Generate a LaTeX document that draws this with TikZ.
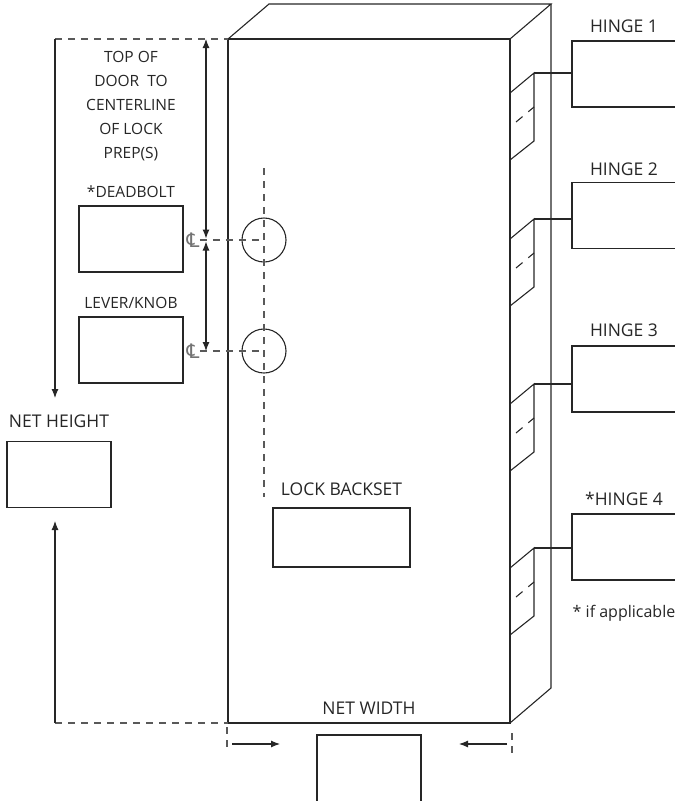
\documentclass[tikz,border=0pt]{standalone}
\usepackage{fontspec}
\setmainfont{Open Sans}
\newfontfamily\simbolo{DejaVu Sans}
\usetikzlibrary{positioning,arrows.meta}
\begin{document}
\begin{tikzpicture}[
  x=1pt, y=-1pt, line width=1.1pt, color=black!85,
  >={Latex[length=9pt,width=7pt]},
  every node/.style={inner sep=0pt, text depth=0pt},
  caixa/.style={draw, minimum width=104pt, minimum height=66pt},
  rotulo/.style={font=\fontsize{17.5}{21}\selectfont},
  miudo/.style={font=\fontsize{15.5}{24}\selectfont, align=center}
]
\tikzset{
  tracejado/.style={dash pattern=on 7pt off 6pt, draw=black!65},
  eixo/.style={font=\simbolo\fontsize{20}{20}\selectfont, text=black!55},
  furo/.style={draw, circle, minimum size=44pt}
}
\useasboundingbox (0,0) rectangle (675,801);
% porta em perspectiva
\coordinate (supEsq) at (228,39);  \coordinate (supDir) at (510,39);
\coordinate (infDir) at (510,723); \coordinate (infEsq) at (228,723);
\coordinate (fundoEsq) at (269,4); \coordinate (fundoDir) at (551,4);
\coordinate (fundoInf) at (551,688);
\draw (supEsq) rectangle (infDir);
\draw (supEsq) -- (fundoEsq) -- (fundoDir) -- (supDir);
\draw (fundoDir) -- (fundoInf) -- (infDir);
% altura liquida
\node[caixa] (altura) at (59,474.5) {};
\node[rotulo, above=13pt of altura] (alturaTxt) {NET HEIGHT};
\coordinate (nhTopo) at (55,39);  \coordinate (nhSeta1) at (55,398);
\coordinate (nhBase) at (55,723); \coordinate (nhSeta2) at (55,521);
\draw[tracejado] (nhTopo) -- (supEsq);
\draw[tracejado] (nhBase) -- (infEsq);
\draw[->] (nhTopo) -- (nhSeta1);
\draw[->] (nhBase) -- (nhSeta2);
% preparacoes da fechadura
\node[miudo] (topoTxt) at (131,105) {TOP OF\\DOOR~~TO\\CENTERLINE\\OF LOCK\\PREP(S)};
\node[caixa] (trinco) at (131,239) {};
\node[miudo, above=7pt of trinco] (trincoTxt) {*DEADBOLT};
\node[caixa] (macaneta) at (131,350) {};
\node[miudo, above=7pt of macaneta] (macanetaTxt) {LEVER/KNOB};
\node[eixo] (cl1) at (193,240) {℄};
\node[eixo] (cl2) at (193,351) {℄};
\node[furo] (furo1) at (264,240) {};
\node[furo] (furo2) at (264,351) {};
\coordinate (cotaTopo) at (206,39); \coordinate (cota1) at (206,240);
\coordinate (cota2) at (206,351);
\draw[<->, shorten >=1.5pt] (cotaTopo) -- (cota1);
\draw[<->, shorten <=1.5pt] (cota1) -- (cota2);
\draw[tracejado] (cl1.east |- furo1) -- (furo1.center);
\draw[tracejado] (cl2.east |- furo2) -- (furo2.center);
\coordinate (eixoTopo) at (264,168); \coordinate (eixoBase) at (264,497);
\draw[tracejado] (eixoTopo) -- (eixoBase);
\node[caixa, minimum width=137pt, minimum height=59pt] (recuo) at (341.5,537.5) {};
\node[rotulo, above=11pt of recuo] (recuoTxt) {LOCK BACKSET};
% largura liquida
\node[caixa, minimum height=80pt] (largura) at (369,775) {};
\node[rotulo, above=19pt of largura] (larguraTxt) {NET WIDTH};
\coordinate (nwEsq) at (232,744); \coordinate (nwSetaEsq) at (280,744);
\coordinate (nwDir) at (507,744); \coordinate (nwSetaDir) at (459,744);
\draw[->] (nwEsq) -- (nwSetaEsq);
\draw[->] (nwDir) -- (nwSetaDir);
\draw[tracejado] (227,727) -- (227,753);
\draw[tracejado] (512,733) -- (512,758);
% dobradicas
\node[caixa] (dob1) at (624,74) {};
\node[rotulo, above=7pt of dob1] (dob1Txt) {HINGE 1};
\node[caixa] (dob2) at (624,215.5) {};
\node[rotulo, above=6pt of dob2] (dob2Txt) {HINGE 2};
\node[caixa] (dob3) at (624,379) {};
\node[rotulo, above=8pt of dob3] (dob3Txt) {HINGE 3};
\node[caixa] (dob4) at (624,547) {};
\node[rotulo, above=7pt of dob4] (dob4Txt) {*HINGE 4};
\node[font=\fontsize{16}{19}\selectfont, below=24pt of dob4] (notaTxt) {* if applicable};
\coordinate (fol1) at (534,73);  \coordinate (fol2) at (534,219);
\coordinate (fol3) at (534,384); \coordinate (fol4) at (534,548);
\draw (510,93) -- (fol1) -- (534,141) -- (510,160);
\draw (510,239) -- (fol2) -- (534,287) -- (510,306);
\draw (510,404) -- (fol3) -- (534,452) -- (510,471);
\draw (510,568) -- (fol4) -- (534,616) -- (510,635);
\draw[dash pattern=on 8.5pt off 7.5pt] (516,122) -- (534,107);
\draw[dash pattern=on 8.5pt off 7.5pt] (516,268) -- (534,253);
\draw[dash pattern=on 8.5pt off 7.5pt] (516,433) -- (534,418);
\draw[dash pattern=on 8.5pt off 7.5pt] (516,597) -- (534,582);
\draw (fol1) -- (fol1 -| dob1.west);
\draw (fol2) -- (fol2 -| dob2.west);
\draw (fol3) -- (fol3 -| dob3.west);
\draw (fol4) -- (fol4 -| dob4.west);
\end{tikzpicture}
\end{document}
